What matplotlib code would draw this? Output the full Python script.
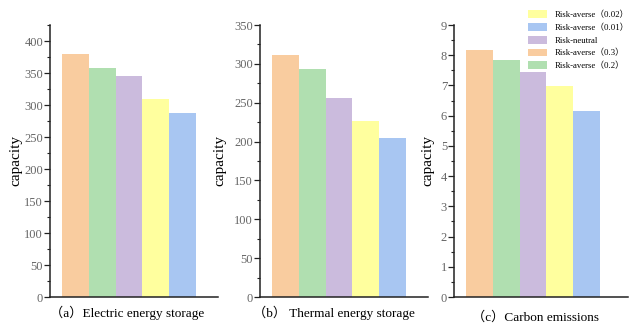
import matplotlib
matplotlib.use("Agg")
import matplotlib.pyplot as plt
from matplotlib.patches import Patch
from matplotlib.ticker import MultipleLocator

plt.rcParams['font.family'] = ['Liberation Serif', 'Noto Sans CJK SC', 'DejaVu Sans']

# Data
bar_labels = ["Risk-averse（0.3）", "Risk-averse（0.2）", "Risk-neutral",
              "Risk-averse（0.02）", "Risk-averse（0.01）"]
bar_colors = ["#F9CC9F", "#B0DFB0", "#CBBBDD", "#FFFF9E", "#A8C6F2"]
electric = [380, 358, 346, 309, 287]
thermal = [311, 293, 256, 226, 204]
carbon = [8.17, 7.83, 7.43, 6.98, 6.17]
captions = ["（a）Electric energy storage", "（b） Thermal energy storage", "（c）Carbon emissions"]
ylims = [425, 350, 9]
majors = [50, 50, 1]
minors = [25, 25, 0.5]
legend_order = [3, 4, 2, 0, 1]

W, H = 630, 329
fig = plt.figure(figsize=(W / 100, H / 100), dpi=100)

axes_px = [(50, 168), (260, 168), (454, 174)]
bottom = 1 - 297 / H
height = (297 - 25) / H
caption_pos = [(127, 313), (334, 313), (535, 317)]
label_x = [16, 220, 428]

datasets = [electric, thermal, carbon]
for i, (data, (lx, w)) in enumerate(zip(datasets, axes_px)):
    ax = fig.add_axes([lx / W, bottom, w / W, height])
    x = list(range(len(data)))
    ax.bar(x, data, width=1.0, color=bar_colors, edgecolor='none')
    ax.set_xlim(-0.95, 5.32 if i < 2 else 5.55)
    ax.set_ylim(0, ylims[i])
    ax.yaxis.set_major_locator(MultipleLocator(majors[i]))
    ax.yaxis.set_minor_locator(MultipleLocator(minors[i]))
    ax.set_xticks([])
    for s in ['top', 'right']:
        ax.spines[s].set_visible(False)
    for s in ['left', 'bottom']:
        ax.spines[s].set_linewidth(1.1)
        ax.spines[s].set_color('#222222')
    ax.tick_params(axis='y', which='major', direction='out', length=4, width=0.9,
                   labelsize=9, labelcolor='#666666', color='#222222', pad=1)
    ax.tick_params(axis='y', which='minor', direction='out', length=2, width=0.8, color='#222222')
    fig.text(label_x[i] / W, 1 - 160 / H, "capacity", rotation=90,
             ha='center', va='center', fontsize=11)
    cx, cy = caption_pos[i]
    fig.text(cx / W, 1 - cy / H, captions[i], ha='center', va='center', fontsize=9.5)

handles = [Patch(facecolor=bar_colors[k], edgecolor='none', label=bar_labels[k]) for k in legend_order]
fig.legend(handles=handles, loc='upper left', bbox_to_anchor=(528 / W, 1 - 10 / H),
           frameon=False, fontsize=6.3, handlelength=2.2, handleheight=1.0,
           handletextpad=0.9, labelspacing=0.45, borderpad=0, borderaxespad=0)

fig.savefig("out.png", dpi=100)
